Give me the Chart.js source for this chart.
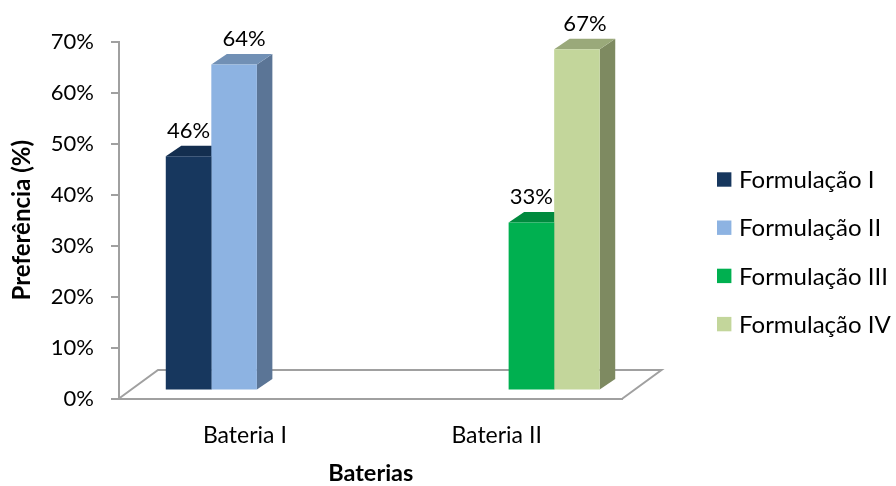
<!DOCTYPE html>
<html>
<head>
<meta charset="utf-8">
<script src="https://cdn.jsdelivr.net/npm/chart.js@4/dist/chart.umd.min.js"></script>
<style>
  html, body { margin: 0; padding: 0; background: #ffffff; }
  #wrap { width: 896px; height: 486px; }
</style>
</head>
<body>
<div id="wrap"><canvas id="chart" width="896" height="486"></canvas></div>
<script>
// ---- data ----
const categories = ['Bateria I', 'Bateria II'];
const seriesNames = ['Formulação I', 'Formulação II', 'Formulação III', 'Formulação IV'];
const formulacaoI = [46, null];
const formulacaoII = [64, null];
const formulacaoIII = [null, 33];
const formulacaoIV = [null, 67];
const yTickLabels = ['0%', '10%', '20%', '30%', '40%', '50%', '60%', '70%'];

// ---- style ----
const FONT = 'Lato, "Open Sans", sans-serif';
const frontColors = ['#17375E', '#8DB3E2', '#00B050', '#C3D69B'];
const topColors   = ['#132E4F', '#7190B5', '#008A3E', '#9AA97A'];
const sideColors  = ['#10283F', '#5B7596', '#00793A', '#7E8A61'];
const AXIS_COLOR = '#A0A0A0';
// oblique projection of the floor and of the bar bodies
const DEPTH = { floorDx: 39, floorDy: -28.5, shiftDx: 12, shiftDy: -8, barDx: 15.5, barDy: -10.5 };
// horizontal nudge of each series' value label
const labelNudge = [0, 10, 0, 8];

const seriesValues = [formulacaoI, formulacaoII, formulacaoIII, formulacaoIV];

// Floor outline, bar tops and sides; the bar fronts are drawn by Chart.js on top
const bars3d = {
  id: 'bars3d',
  beforeDatasetsDraw(chart) {
    const { ctx, chartArea: a } = chart;
    ctx.save();
    ctx.strokeStyle = AXIS_COLOR;
    ctx.lineWidth = 2;
    ctx.beginPath();
    ctx.moveTo(a.left, a.bottom);
    ctx.lineTo(a.left + DEPTH.floorDx, a.bottom + DEPTH.floorDy);
    ctx.lineTo(a.right + DEPTH.floorDx, a.bottom + DEPTH.floorDy);
    ctx.lineTo(a.right, a.bottom);
    ctx.stroke();

    ctx.translate(DEPTH.shiftDx, DEPTH.shiftDy);
    chart.data.datasets.forEach((ds, i) => {
      const meta = chart.getDatasetMeta(i);
      meta.data.forEach((el, j) => {
        if (ds.data[j] == null) return;
        const { x, y, base, width } = el.getProps(['x', 'y', 'base', 'width'], true);
        const l = x - width / 2, r = x + width / 2;
        const dx = DEPTH.barDx, dy = DEPTH.barDy;
        ctx.fillStyle = sideColors[i];
        ctx.beginPath();
        ctx.moveTo(r, y);
        ctx.lineTo(r + dx, y + dy);
        ctx.lineTo(r + dx, base + dy);
        ctx.lineTo(r, base);
        ctx.closePath();
        ctx.fill();
        ctx.fillStyle = topColors[i];
        ctx.beginPath();
        ctx.moveTo(l, y);
        ctx.lineTo(l + dx, y + dy);
        ctx.lineTo(r + dx, y + dy);
        ctx.lineTo(r, y);
        ctx.closePath();
        ctx.fill();
      });
    });
    // translation stays active while the bar fronts are drawn
  },
  afterDatasetsDraw(chart) {
    const { ctx } = chart;
    ctx.restore();
    ctx.save();
    ctx.fillStyle = '#000000';
    ctx.font = '22px ' + FONT;
    ctx.textAlign = 'center';
    ctx.textBaseline = 'alphabetic';
    chart.data.datasets.forEach((ds, i) => {
      const meta = chart.getDatasetMeta(i);
      meta.data.forEach((el, j) => {
        const v = ds.data[j];
        if (v == null) return;
        const { x, y } = el.getProps(['x', 'y'], true);
        ctx.fillText(v + '%', x + DEPTH.shiftDx + labelNudge[i], y + DEPTH.shiftDy + DEPTH.barDy - 8);
      });
    });
    ctx.restore();
  }
};

// Legend to the right of the plot
const sideLegend = {
  id: 'sideLegend',
  afterDraw(chart) {
    const { ctx } = chart;
    ctx.save();
    ctx.font = '24px ' + FONT;
    ctx.textBaseline = 'middle';
    ctx.textAlign = 'left';
    chart.data.datasets.forEach((ds, i) => {
      const cy = 179.5 + i * 48.2;
      ctx.fillStyle = ds.backgroundColor;
      ctx.fillRect(717, cy - 7.2, 14.4, 14.4);
      ctx.fillStyle = '#000000';
      ctx.fillText(ds.label, 739, cy + 1);
    });
    ctx.restore();
  }
};

new Chart(document.getElementById('chart'), {
  type: 'bar',
  data: {
    labels: categories,
    datasets: seriesNames.map((name, i) => ({
      label: name,
      data: seriesValues[i],
      backgroundColor: frontColors[i],
      borderWidth: 0,
      categoryPercentage: 0.7237,
      barPercentage: 1.0,
      clip: false
    }))
  },
  options: {
    responsive: false,
    devicePixelRatio: 1,
    animation: false,
    layout: { padding: { top: 42, right: 273.5, left: 0, bottom: 0 } },
    plugins: {
      legend: { display: false },
      tooltip: { enabled: false }
    },
    scales: {
      x: {
        afterFit(scale) { scale.height = 87.5; },
        grid: { display: false, drawTicks: false },
        border: { display: true, color: AXIS_COLOR, width: 2 },
        ticks: { color: '#000000', font: { family: FONT, size: 23 }, padding: 23.5 },
        title: {
          display: true,
          text: 'Baterias',
          color: '#000000',
          font: { family: FONT, size: 23.5, weight: 'bold' },
          padding: { top: 0, bottom: -2 }
        }
      },
      y: {
        min: 0,
        max: 70,
        afterFit(scale) { scale.width = 119; },
        ticks: {
          stepSize: 10,
          color: '#000000',
          font: { family: FONT, size: 22 },
          padding: 17,
          callback: (v, i) => yTickLabels[i]
        },
        grid: { drawOnChartArea: false, drawTicks: true, tickLength: 8, color: AXIS_COLOR, lineWidth: 2 },
        border: { display: true, color: AXIS_COLOR, width: 2 },
        title: {
          display: true,
          text: 'Preferência (%)',
          color: '#000000',
          font: { family: FONT, size: 24, weight: 'bold' },
          padding: { top: 7.5, bottom: 0 }
        }
      }
    }
  },
  plugins: [bars3d, sideLegend]
});
</script>
</body>
</html>
